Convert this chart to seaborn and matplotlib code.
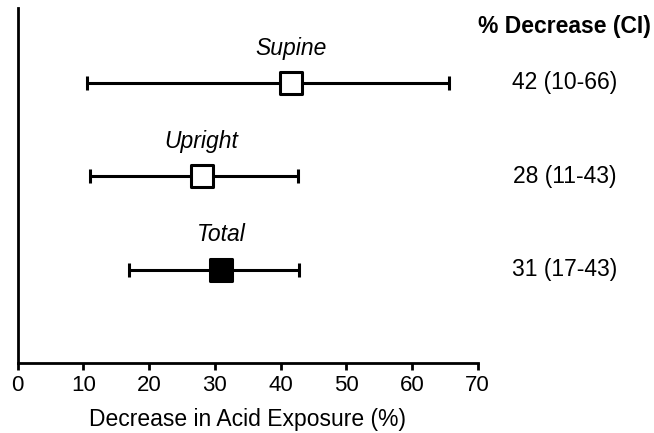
import matplotlib
matplotlib.use("Agg")
import matplotlib.pyplot as plt
import pandas as pd
import seaborn as sns

# data
positions = ["Supine", "Upright", "Total"]
estimates = [41.6, 28.0, 31.0]
ci_low = [10.5, 11.0, 17.0]
ci_high = [65.7, 42.7, 42.8]
filled = [False, False, True]
ci_text = ["42 (10-66)", "28 (11-43)", "31 (17-43)"]
rows = [3, 2, 1]

df = pd.DataFrame(
    {
        "position": positions,
        "est": estimates,
        "lo": ci_low,
        "hi": ci_high,
        "fill": ["filled" if f else "open" for f in filled],
        "row": rows,
    }
)

sns.set_theme(style="ticks")
plt.rcParams["font.family"] = ["Liberation Sans", "DejaVu Sans"]
plt.rcParams["text.color"] = "black"
plt.rcParams["axes.labelcolor"] = "black"
plt.rcParams["xtick.color"] = "black"

fig = plt.figure(figsize=(6.54, 4.33), dpi=100)
ax = fig.add_axes([0.027, 0.1617, 0.7034, 0.8198])

ax.errorbar(
    df["est"],
    df["row"],
    xerr=[df["est"] - df["lo"], df["hi"] - df["est"]],
    fmt="none",
    ecolor="black",
    elinewidth=2.2,
    capsize=4.8,
    capthick=2.2,
    zorder=2,
)
sns.scatterplot(
    data=df,
    x="est",
    y="row",
    hue="fill",
    palette={"open": "white", "filled": "black"},
    marker="s",
    s=250,
    edgecolor="black",
    linewidth=2.2,
    legend=False,
    zorder=3,
    ax=ax,
)

for _, r in df.iterrows():
    ax.annotate(
        r["position"],
        (r["est"], r["row"]),
        xytext=(0, 25),
        textcoords="offset points",
        ha="center",
        va="center",
        fontsize=16.5,
        style="italic",
    )

# right-hand column of % decrease with CI
ax.text(83.2, 3.6, "% Decrease (CI)", fontsize=16.5, fontweight="bold",
        ha="center", va="center", clip_on=False)
for row, txt in zip(rows, ci_text):
    ax.text(83.2, row, txt, fontsize=16.5, ha="center", va="center", clip_on=False)

ax.set_xlim(0, 70)
ax.set_ylim(0, 3.8)
ax.set_xticks(range(0, 71, 10))
ax.set_yticks([])
ax.set_ylabel("")
ax.set_xlabel("Decrease in Acid Exposure (%)", fontsize=16.5, labelpad=8)
ax.tick_params(axis="x", labelsize=16, width=2, length=5, pad=4)
for side in ["left", "bottom"]:
    ax.spines[side].set_linewidth(2)
    ax.spines[side].set_color("black")
sns.despine(ax=ax)

fig.savefig("out.png", dpi=100)
